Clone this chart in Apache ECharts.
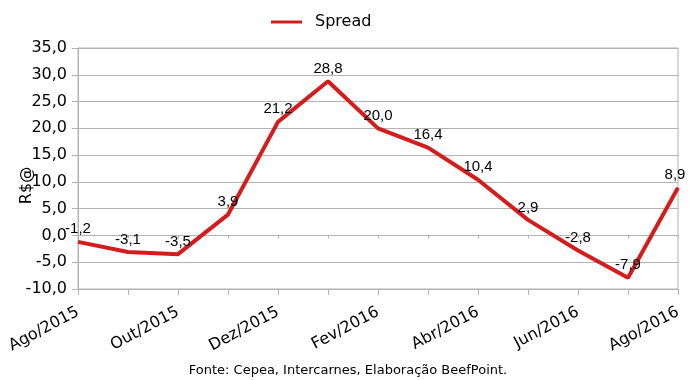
<!DOCTYPE html>
<html><head><meta charset="utf-8">
<script src="https://cdn.jsdelivr.net/npm/echarts@6/dist/echarts.min.js"></script>
<style>html,body{margin:0;padding:0;background:#fff}#c{width:699px;height:380px}</style>
</head><body><div id="c"></div>
<script>
const categories = ['Ago/2015','Set/2015','Out/2015','Nov/2015','Dez/2015','Jan/2016','Fev/2016','Mar/2016','Abr/2016','Mai/2016','Jun/2016','Jul/2016','Ago/2016'];
const spread = [-1.2, -3.1, -3.5, 3.9, 21.2, 28.8, 20.0, 16.4, 10.4, 2.9, -2.8, -7.9, 8.9];
const seriesName = 'Spread';
const yAxisName = 'R$@';
const sourceText = 'Fonte: Cepea, Intercarnes, Elaboração BeefPoint.';

const fmt = v => v.toFixed(1).replace('.', ',');
const grey = '#b3b3b3';
const chart = echarts.init(document.getElementById('c'), null, {renderer: 'canvas'});
chart.setOption({
  animation: false,
  textStyle: {fontFamily: 'DejaVu Sans'},
  grid: {left: 78, right: 21, top: 48, bottom: 91, show: true, borderColor: grey, borderWidth: 1,
    outerBoundsMode: 'none', containLabel: false},
  legend: {
    data: [seriesName], left: 266, top: 9, icon: 'rect', itemWidth: 31, itemHeight: 3,
    textStyle: {fontSize: 16, color: '#000', fontFamily: 'DejaVu Sans', padding: [0,0,0,8]}
  },
  title: {
    text: sourceText, left: 343, top: 359, textAlign: 'center',
    textStyle: {fontSize: 13, fontWeight: 'normal', color: '#000', fontFamily: 'DejaVu Sans'}
  },
  xAxis: [{
    type: 'category', data: categories, boundaryGap: false,
    axisLine: {onZero: false, lineStyle: {color: grey}},
    axisTick: {show: true, interval: 0, length: 6, lineStyle: {color: grey}},
    axisLabel: {interval: 1, rotate: 28, fontSize: 16, color: '#000', margin: 22, fontFamily: 'DejaVu Sans'},
    splitLine: {show: false}
  }, {
    type: 'category', data: categories, boundaryGap: false, position: 'bottom',
    axisLine: {onZero: true, lineStyle: {color: grey}},
    axisTick: {show: true, interval: 0, length: 3, lineStyle: {color: grey}},
    axisLabel: {show: false}, splitLine: {show: false}
  }],
  yAxis: {
    type: 'value', min: -10, max: 35, interval: 5,
    name: yAxisName, nameLocation: 'middle', nameGap: 43, nameMoveOverlap: false,
    nameTextStyle: {fontSize: 16, color: '#000', fontFamily: 'DejaVu Sans', padding: [0, 34, 0, 0]},
    axisLine: {show: true, lineStyle: {color: grey}},
    axisTick: {show: true, length: 6, lineStyle: {color: grey}},
    axisLabel: {formatter: fmt, fontSize: 16, color: '#000', margin: 11, fontFamily: 'DejaVu Sans'},
    splitLine: {show: true, lineStyle: {color: grey}}
  },
  series: [{
    name: seriesName, type: 'line', xAxisIndex: 0,
    data: spread.map((v, i) => i === spread.length - 1 ? {value: v, label: {offset: [-3, 0]}} : v),
    symbol: 'circle', symbolSize: 0.1, showSymbol: true,
    lineStyle: {color: '#d41c1c', width: 4}, itemStyle: {color: '#d41c1c'},
    label: {show: true, position: 'top', distance: 5, formatter: p => fmt(p.value), fontSize: 15,
      color: '#000', fontFamily: 'Liberation Sans'}
  }]
});
</script></body></html>
